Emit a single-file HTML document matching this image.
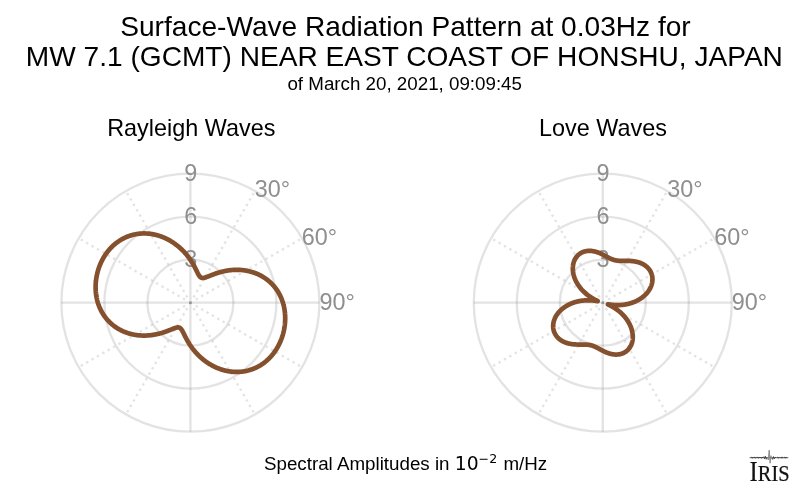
<!DOCTYPE html>
<html><head><meta charset="utf-8"><title>Surface-Wave Radiation Pattern</title>
<style>
html,body{margin:0;padding:0;background:#fff;}
svg{display:block;font-family:"Liberation Sans",Arial,Helvetica,sans-serif;}
</style></head><body>
<svg width="800" height="492" viewBox="0 0 800 492">
<rect width="800" height="492" fill="#fff"/>
<g fill="#000" text-anchor="middle">
<text x="405.5" y="35.6" font-size="28.1">Surface-Wave Radiation Pattern at 0.03Hz for</text>
<text x="404.4" y="66.3" font-size="28.1">MW 7.1 (GCMT) NEAR EAST COAST OF HONSHU, JAPAN</text>
<text x="404.7" y="90" font-size="18.75">of March 20, 2021, 09:09:45</text>
<text x="191.3" y="136.2" font-size="23.4">Rayleigh Waves</text>
<text x="603" y="136.2" font-size="23.4">Love Waves</text>
</g>
<g fill="none" stroke="#808080" stroke-opacity="0.225" stroke-width="2.34">
<circle cx="190.4" cy="302.7" r="43.00"/>
<circle cx="190.4" cy="302.7" r="86.00"/>
<circle cx="190.4" cy="302.7" r="129.00"/>
<path d="M190.4,302.7H319.4"/><path d="M190.4,302.7H61.400000000000006"/><path d="M190.4,302.7V173.7"/><path d="M190.4,302.7V431.7"/>
</g>
<g fill="none" stroke="#808080" stroke-opacity="0.225" stroke-width="2.34" stroke-dasharray="2.34 3.87">
<path d="M193.50,297.32L254.90,190.98"/>
<path d="M195.78,299.59L302.12,238.20"/>
<path d="M195.78,305.81L302.12,367.20"/>
<path d="M193.50,308.08L254.90,414.42"/>
<path d="M187.30,308.08L125.90,414.42"/>
<path d="M185.02,305.81L78.68,367.20"/>
<path d="M185.02,299.59L78.68,238.20"/>
<path d="M187.30,297.32L125.90,190.98"/>
</g>
<circle cx="190.4" cy="302.7" r="1.5" fill="#808080" fill-opacity="0.75"/>
<g font-size="23.4" fill="#8f8f8f" text-anchor="middle">
<text x="190.70000000000002" y="180.90">9</text>
<text x="190.70000000000002" y="223.90">6</text>
<text x="190.70000000000002" y="266.90">3</text>
</g>
<g font-size="23.4" fill="#8f8f8f">
<text x="254.8" y="197.1">30°</text>
<text x="301.8" y="244.5">60°</text>
<text x="319.4" y="309.7">90°</text>
</g>
<path d="M190.40,259.85 L190.59,260.13 L190.77,260.40 L190.95,260.68 L191.13,260.95 L191.31,261.22 L191.48,261.49 L191.65,261.77 L191.82,262.04 L191.99,262.30 L192.15,262.57 L192.31,262.84 L192.48,263.10 L192.63,263.37 L192.79,263.63 L192.94,263.89 L193.10,264.16 L193.25,264.41 L193.39,264.67 L193.54,264.93 L193.68,265.19 L193.82,265.44 L193.96,265.69 L194.10,265.95 L194.24,266.20 L194.37,266.44 L194.50,266.69 L194.63,266.94 L194.76,267.18 L194.89,267.42 L195.01,267.66 L195.14,267.90 L195.26,268.14 L195.38,268.37 L195.50,268.61 L195.61,268.84 L195.73,269.07 L195.84,269.29 L195.95,269.52 L196.06,269.74 L196.17,269.96 L196.28,270.18 L196.39,270.40 L196.49,270.61 L196.60,270.83 L196.70,271.04 L196.80,271.24 L196.90,271.45 L197.00,271.65 L197.10,271.85 L197.19,272.05 L197.29,272.25 L197.39,272.44 L197.48,272.63 L197.57,272.82 L197.67,273.00 L197.76,273.19 L197.85,273.37 L197.94,273.54 L198.03,273.72 L198.12,273.89 L198.21,274.06 L198.30,274.22 L198.39,274.38 L198.47,274.54 L198.56,274.70 L198.65,274.85 L198.74,275.00 L198.82,275.15 L198.91,275.29 L199.00,275.43 L199.09,275.57 L199.17,275.70 L199.26,275.83 L199.35,275.95 L199.44,276.08 L199.53,276.20 L199.62,276.31 L199.71,276.42 L199.80,276.53 L199.89,276.63 L199.98,276.74 L200.07,276.83 L200.17,276.92 L200.26,277.01 L200.36,277.10 L200.45,277.18 L200.55,277.26 L200.65,277.33 L200.75,277.40 L200.85,277.47 L200.96,277.53 L201.06,277.59 L201.17,277.64 L201.27,277.69 L201.38,277.74 L201.50,277.78 L201.61,277.82 L201.72,277.85 L201.84,277.88 L201.96,277.91 L202.08,277.93 L202.21,277.95 L202.33,277.96 L202.46,277.97 L202.59,277.98 L202.72,277.98 L202.86,277.98 L203.00,277.97 L203.14,277.97 L203.28,277.95 L203.43,277.94 L203.58,277.92 L203.73,277.89 L203.88,277.87 L204.04,277.84 L204.20,277.80 L204.36,277.77 L204.53,277.73 L204.70,277.68 L204.87,277.64 L205.05,277.59 L205.22,277.53 L205.41,277.48 L205.59,277.42 L205.78,277.36 L205.97,277.29 L206.17,277.22 L206.36,277.15 L206.56,277.08 L206.77,277.01 L206.98,276.93 L207.19,276.85 L207.40,276.77 L207.62,276.68 L207.84,276.59 L208.07,276.51 L208.30,276.42 L208.53,276.32 L208.76,276.23 L209.00,276.13 L209.24,276.04 L209.49,275.94 L209.74,275.84 L209.99,275.74 L210.25,275.63 L210.51,275.53 L210.77,275.42 L211.03,275.32 L211.30,275.21 L211.58,275.10 L211.85,274.99 L212.13,274.89 L212.41,274.78 L212.70,274.67 L212.99,274.55 L213.28,274.44 L213.58,274.33 L213.88,274.22 L214.18,274.11 L214.48,274.00 L214.79,273.89 L215.10,273.77 L215.42,273.66 L215.74,273.55 L216.06,273.44 L216.38,273.33 L216.71,273.22 L217.04,273.11 L217.37,273.01 L217.71,272.90 L218.05,272.79 L218.39,272.69 L218.73,272.58 L219.08,272.48 L219.43,272.37 L219.78,272.27 L220.14,272.17 L220.50,272.07 L220.86,271.98 L221.22,271.88 L221.59,271.78 L221.95,271.69 L222.33,271.60 L222.70,271.51 L223.07,271.42 L223.45,271.34 L223.83,271.25 L224.21,271.17 L224.60,271.09 L224.99,271.01 L225.37,270.93 L225.76,270.86 L226.16,270.79 L226.55,270.72 L226.95,270.65 L227.35,270.58 L227.75,270.52 L228.15,270.46 L228.55,270.40 L228.96,270.34 L229.37,270.29 L229.78,270.24 L230.19,270.19 L230.60,270.15 L231.01,270.11 L231.43,270.07 L231.84,270.03 L232.26,270.00 L232.68,269.97 L233.10,269.94 L233.52,269.91 L233.94,269.89 L234.36,269.87 L234.79,269.86 L235.21,269.84 L235.64,269.83 L236.06,269.83 L236.49,269.82 L236.92,269.82 L237.35,269.83 L237.78,269.83 L238.21,269.84 L238.64,269.85 L239.07,269.87 L239.50,269.89 L239.93,269.91 L240.37,269.94 L240.80,269.97 L241.23,270.00 L241.66,270.04 L242.10,270.08 L242.53,270.13 L242.96,270.17 L243.40,270.22 L243.83,270.28 L244.26,270.34 L244.69,270.40 L245.13,270.46 L245.56,270.53 L245.99,270.61 L246.42,270.68 L246.85,270.76 L247.28,270.85 L247.71,270.93 L248.14,271.02 L248.57,271.12 L248.99,271.22 L249.42,271.32 L249.84,271.42 L250.27,271.53 L250.69,271.65 L251.12,271.76 L251.54,271.88 L251.96,272.01 L252.38,272.14 L252.80,272.27 L253.21,272.40 L253.63,272.54 L254.04,272.68 L254.46,272.83 L254.87,272.98 L255.28,273.13 L255.69,273.29 L256.09,273.45 L256.50,273.62 L256.90,273.78 L257.31,273.95 L257.71,274.13 L258.11,274.31 L258.50,274.49 L258.90,274.68 L259.29,274.87 L259.68,275.06 L260.07,275.26 L260.46,275.46 L260.84,275.66 L261.23,275.87 L261.61,276.08 L261.99,276.29 L262.36,276.51 L262.74,276.73 L263.11,276.95 L263.48,277.18 L263.84,277.41 L264.21,277.65 L264.57,277.88 L264.93,278.12 L265.29,278.37 L265.64,278.61 L265.99,278.87 L266.34,279.12 L266.69,279.38 L267.03,279.64 L267.38,279.90 L267.71,280.16 L268.05,280.43 L268.38,280.71 L268.71,280.98 L269.04,281.26 L269.37,281.54 L269.69,281.83 L270.01,282.11 L270.32,282.40 L270.63,282.70 L270.94,282.99 L271.25,283.29 L271.56,283.59 L271.86,283.89 L272.15,284.20 L272.45,284.51 L272.74,284.82 L273.03,285.14 L273.31,285.45 L273.59,285.77 L273.87,286.10 L274.15,286.42 L274.42,286.75 L274.69,287.08 L274.95,287.41 L275.22,287.74 L275.48,288.08 L275.73,288.42 L275.98,288.76 L276.23,289.11 L276.48,289.45 L276.72,289.80 L276.96,290.15 L277.20,290.50 L277.43,290.86 L277.66,291.21 L277.88,291.57 L278.10,291.93 L278.32,292.29 L278.54,292.66 L278.75,293.02 L278.96,293.39 L279.16,293.76 L279.36,294.13 L279.56,294.51 L279.76,294.88 L279.95,295.26 L280.14,295.64 L280.32,296.02 L280.50,296.40 L280.68,296.78 L280.85,297.17 L281.02,297.55 L281.19,297.94 L281.35,298.33 L281.51,298.72 L281.67,299.11 L281.82,299.51 L281.97,299.90 L282.12,300.30 L282.26,300.70 L282.40,301.09 L282.53,301.49 L282.67,301.89 L282.79,302.30 L282.92,302.70 L283.04,303.10 L283.16,303.51 L283.27,303.92 L283.39,304.32 L283.49,304.73 L283.60,305.14 L283.70,305.55 L283.80,305.96 L283.89,306.37 L283.98,306.79 L284.07,307.20 L284.15,307.61 L284.24,308.03 L284.31,308.44 L284.39,308.86 L284.46,309.28 L284.53,309.69 L284.59,310.11 L284.65,310.53 L284.71,310.95 L284.76,311.37 L284.81,311.79 L284.86,312.21 L284.90,312.63 L284.95,313.05 L284.98,313.48 L285.02,313.90 L285.05,314.32 L285.08,314.74 L285.10,315.17 L285.12,315.59 L285.14,316.02 L285.16,316.44 L285.17,316.86 L285.18,317.29 L285.18,317.71 L285.19,318.14 L285.18,318.56 L285.18,318.99 L285.17,319.41 L285.16,319.84 L285.15,320.26 L285.13,320.69 L285.11,321.11 L285.09,321.54 L285.06,321.96 L285.03,322.38 L285.00,322.81 L284.97,323.23 L284.93,323.66 L284.89,324.08 L284.84,324.50 L284.80,324.93 L284.75,325.35 L284.69,325.77 L284.63,326.20 L284.57,326.62 L284.51,327.04 L284.45,327.46 L284.38,327.88 L284.31,328.30 L284.23,328.72 L284.15,329.14 L284.07,329.56 L283.99,329.98 L283.90,330.40 L283.81,330.81 L283.72,331.23 L283.62,331.65 L283.52,332.06 L283.42,332.48 L283.32,332.89 L283.21,333.30 L283.10,333.72 L282.99,334.13 L282.87,334.54 L282.75,334.95 L282.63,335.36 L282.50,335.77 L282.37,336.18 L282.24,336.58 L282.11,336.99 L281.97,337.39 L281.83,337.80 L281.69,338.20 L281.54,338.60 L281.40,339.00 L281.24,339.40 L281.09,339.80 L280.93,340.20 L280.77,340.60 L280.61,340.99 L280.44,341.39 L280.27,341.78 L280.10,342.17 L279.93,342.56 L279.75,342.95 L279.57,343.34 L279.39,343.72 L279.20,344.11 L279.01,344.49 L278.82,344.87 L278.62,345.25 L278.43,345.63 L278.23,346.01 L278.02,346.39 L277.82,346.76 L277.61,347.13 L277.40,347.51 L277.18,347.88 L276.96,348.24 L276.74,348.61 L276.52,348.97 L276.29,349.34 L276.07,349.70 L275.83,350.06 L275.60,350.41 L275.36,350.77 L275.12,351.12 L274.88,351.47 L274.63,351.82 L274.38,352.17 L274.13,352.52 L273.88,352.86 L273.62,353.20 L273.36,353.54 L273.10,353.88 L272.83,354.21 L272.57,354.54 L272.30,354.87 L272.02,355.20 L271.75,355.53 L271.47,355.85 L271.19,356.17 L270.90,356.49 L270.62,356.81 L270.33,357.12 L270.03,357.43 L269.74,357.74 L269.44,358.05 L269.14,358.35 L268.84,358.65 L268.53,358.95 L268.23,359.24 L267.92,359.54 L267.60,359.83 L267.29,360.11 L266.97,360.40 L266.65,360.68 L266.32,360.96 L266.00,361.24 L265.67,361.51 L265.34,361.78 L265.01,362.05 L264.67,362.31 L264.33,362.57 L263.99,362.83 L263.65,363.08 L263.31,363.34 L262.96,363.58 L262.61,363.83 L262.26,364.07 L261.90,364.31 L261.55,364.55 L261.19,364.78 L260.83,365.01 L260.46,365.23 L260.10,365.46 L259.73,365.68 L259.36,365.89 L258.99,366.10 L258.62,366.31 L258.24,366.52 L257.86,366.72 L257.48,366.92 L257.10,367.11 L256.72,367.31 L256.33,367.49 L255.95,367.68 L255.56,367.86 L255.17,368.03 L254.77,368.21 L254.38,368.38 L253.98,368.54 L253.58,368.70 L253.18,368.86 L252.78,369.02 L252.38,369.17 L251.98,369.31 L251.57,369.46 L251.16,369.59 L250.75,369.73 L250.34,369.86 L249.93,369.99 L249.52,370.11 L249.10,370.23 L248.69,370.35 L248.27,370.46 L247.85,370.57 L247.43,370.67 L247.01,370.77 L246.59,370.86 L246.17,370.96 L245.74,371.04 L245.32,371.13 L244.89,371.21 L244.47,371.28 L244.04,371.35 L243.61,371.42 L243.18,371.48 L242.75,371.54 L242.32,371.60 L241.89,371.65 L241.46,371.70 L241.02,371.74 L240.59,371.78 L240.15,371.81 L239.72,371.84 L239.29,371.87 L238.85,371.89 L238.41,371.91 L237.98,371.93 L237.54,371.94 L237.11,371.94 L236.67,371.95 L236.23,371.94 L235.79,371.94 L235.36,371.93 L234.92,371.91 L234.48,371.90 L234.05,371.87 L233.61,371.85 L233.17,371.82 L232.73,371.78 L232.30,371.75 L231.86,371.70 L231.43,371.66 L230.99,371.61 L230.55,371.55 L230.12,371.50 L229.69,371.44 L229.25,371.37 L228.82,371.30 L228.39,371.23 L227.95,371.15 L227.52,371.07 L227.09,370.99 L226.66,370.90 L226.23,370.81 L225.80,370.71 L225.38,370.61 L224.95,370.51 L224.52,370.40 L224.10,370.29 L223.68,370.18 L223.25,370.06 L222.83,369.94 L222.41,369.81 L221.99,369.69 L221.57,369.55 L221.16,369.42 L220.74,369.28 L220.33,369.14 L219.92,368.99 L219.51,368.85 L219.10,368.69 L218.69,368.54 L218.28,368.38 L217.88,368.22 L217.47,368.06 L217.07,367.89 L216.67,367.72 L216.27,367.54 L215.87,367.37 L215.48,367.19 L215.08,367.01 L214.69,366.82 L214.30,366.63 L213.92,366.44 L213.53,366.25 L213.15,366.05 L212.76,365.85 L212.38,365.65 L212.00,365.45 L211.63,365.24 L211.25,365.03 L210.88,364.82 L210.51,364.60 L210.15,364.38 L209.78,364.17 L209.42,363.94 L209.06,363.72 L208.70,363.49 L208.34,363.26 L207.99,363.03 L207.63,362.80 L207.28,362.57 L206.94,362.33 L206.59,362.09 L206.25,361.85 L205.91,361.61 L205.57,361.36 L205.24,361.12 L204.90,360.87 L204.57,360.62 L204.24,360.37 L203.92,360.11 L203.60,359.86 L203.28,359.60 L202.96,359.35 L202.64,359.09 L202.33,358.83 L202.02,358.56 L201.71,358.30 L201.41,358.04 L201.10,357.77 L200.80,357.50 L200.51,357.24 L200.21,356.97 L199.92,356.70 L199.63,356.43 L199.34,356.15 L199.06,355.88 L198.78,355.61 L198.50,355.33 L198.22,355.06 L197.95,354.78 L197.68,354.50 L197.41,354.23 L197.15,353.95 L196.88,353.67 L196.62,353.39 L196.37,353.11 L196.11,352.83 L195.86,352.55 L195.61,352.27 L195.36,351.99 L195.12,351.71 L194.88,351.43 L194.64,351.15 L194.40,350.86 L194.17,350.58 L193.94,350.30 L193.71,350.02 L193.48,349.74 L193.26,349.46 L193.04,349.17 L192.82,348.89 L192.61,348.61 L192.39,348.33 L192.18,348.05 L191.97,347.77 L191.77,347.49 L191.57,347.21 L191.37,346.93 L191.17,346.65 L190.97,346.38 L190.78,346.10 L190.59,345.82 L190.40,345.55 L190.21,345.27 L190.03,345.00 L189.85,344.72 L189.67,344.45 L189.49,344.18 L189.32,343.91 L189.15,343.63 L188.98,343.36 L188.81,343.10 L188.65,342.83 L188.49,342.56 L188.32,342.30 L188.17,342.03 L188.01,341.77 L187.86,341.51 L187.70,341.24 L187.55,340.99 L187.41,340.73 L187.26,340.47 L187.12,340.21 L186.98,339.96 L186.84,339.71 L186.70,339.45 L186.56,339.20 L186.43,338.96 L186.30,338.71 L186.17,338.46 L186.04,338.22 L185.91,337.98 L185.79,337.74 L185.66,337.50 L185.54,337.26 L185.42,337.03 L185.30,336.79 L185.19,336.56 L185.07,336.33 L184.96,336.11 L184.85,335.88 L184.74,335.66 L184.63,335.44 L184.52,335.22 L184.41,335.00 L184.31,334.79 L184.20,334.57 L184.10,334.36 L184.00,334.16 L183.90,333.95 L183.80,333.75 L183.70,333.55 L183.61,333.35 L183.51,333.15 L183.41,332.96 L183.32,332.77 L183.23,332.58 L183.13,332.40 L183.04,332.21 L182.95,332.03 L182.86,331.86 L182.77,331.68 L182.68,331.51 L182.59,331.34 L182.50,331.18 L182.41,331.02 L182.33,330.86 L182.24,330.70 L182.15,330.55 L182.06,330.40 L181.98,330.25 L181.89,330.11 L181.80,329.97 L181.71,329.83 L181.63,329.70 L181.54,329.57 L181.45,329.45 L181.36,329.32 L181.27,329.20 L181.18,329.09 L181.09,328.98 L181.00,328.87 L180.91,328.77 L180.82,328.66 L180.73,328.57 L180.63,328.48 L180.54,328.39 L180.44,328.30 L180.35,328.22 L180.25,328.14 L180.15,328.07 L180.05,328.00 L179.95,327.93 L179.84,327.87 L179.74,327.81 L179.63,327.76 L179.53,327.71 L179.42,327.66 L179.30,327.62 L179.19,327.58 L179.08,327.55 L178.96,327.52 L178.84,327.49 L178.72,327.47 L178.59,327.45 L178.47,327.44 L178.34,327.43 L178.21,327.42 L178.08,327.42 L177.94,327.42 L177.80,327.43 L177.66,327.43 L177.52,327.45 L177.37,327.46 L177.22,327.48 L177.07,327.51 L176.92,327.53 L176.76,327.56 L176.60,327.60 L176.44,327.63 L176.27,327.67 L176.10,327.72 L175.93,327.76 L175.75,327.81 L175.58,327.87 L175.39,327.92 L175.21,327.98 L175.02,328.04 L174.83,328.11 L174.63,328.18 L174.44,328.25 L174.24,328.32 L174.03,328.39 L173.82,328.47 L173.61,328.55 L173.40,328.63 L173.18,328.72 L172.96,328.81 L172.73,328.89 L172.50,328.98 L172.27,329.08 L172.04,329.17 L171.80,329.27 L171.56,329.36 L171.31,329.46 L171.06,329.56 L170.81,329.66 L170.55,329.77 L170.29,329.87 L170.03,329.98 L169.77,330.08 L169.50,330.19 L169.22,330.30 L168.95,330.41 L168.67,330.51 L168.39,330.62 L168.10,330.73 L167.81,330.85 L167.52,330.96 L167.22,331.07 L166.92,331.18 L166.62,331.29 L166.32,331.40 L166.01,331.51 L165.70,331.63 L165.38,331.74 L165.06,331.85 L164.74,331.96 L164.42,332.07 L164.09,332.18 L163.76,332.29 L163.43,332.39 L163.09,332.50 L162.75,332.61 L162.41,332.71 L162.07,332.82 L161.72,332.92 L161.37,333.03 L161.02,333.13 L160.66,333.23 L160.30,333.33 L159.94,333.42 L159.58,333.52 L159.21,333.62 L158.85,333.71 L158.47,333.80 L158.10,333.89 L157.73,333.98 L157.35,334.06 L156.97,334.15 L156.59,334.23 L156.20,334.31 L155.81,334.39 L155.43,334.47 L155.04,334.54 L154.64,334.61 L154.25,334.68 L153.85,334.75 L153.45,334.82 L153.05,334.88 L152.65,334.94 L152.25,335.00 L151.84,335.06 L151.43,335.11 L151.02,335.16 L150.61,335.21 L150.20,335.25 L149.79,335.29 L149.37,335.33 L148.96,335.37 L148.54,335.40 L148.12,335.43 L147.70,335.46 L147.28,335.49 L146.86,335.51 L146.44,335.53 L146.01,335.54 L145.59,335.56 L145.16,335.57 L144.74,335.57 L144.31,335.58 L143.88,335.58 L143.45,335.57 L143.02,335.57 L142.59,335.56 L142.16,335.55 L141.73,335.53 L141.30,335.51 L140.87,335.49 L140.43,335.46 L140.00,335.43 L139.57,335.40 L139.14,335.36 L138.70,335.32 L138.27,335.27 L137.84,335.23 L137.40,335.18 L136.97,335.12 L136.54,335.06 L136.11,335.00 L135.67,334.94 L135.24,334.87 L134.81,334.79 L134.38,334.72 L133.95,334.64 L133.52,334.55 L133.09,334.47 L132.66,334.38 L132.23,334.28 L131.81,334.18 L131.38,334.08 L130.96,333.98 L130.53,333.87 L130.11,333.75 L129.68,333.64 L129.26,333.52 L128.84,333.39 L128.42,333.26 L128.00,333.13 L127.59,333.00 L127.17,332.86 L126.76,332.72 L126.34,332.57 L125.93,332.42 L125.52,332.27 L125.11,332.11 L124.71,331.95 L124.30,331.78 L123.90,331.62 L123.49,331.45 L123.09,331.27 L122.69,331.09 L122.30,330.91 L121.90,330.72 L121.51,330.53 L121.12,330.34 L120.73,330.14 L120.34,329.94 L119.96,329.74 L119.57,329.53 L119.19,329.32 L118.81,329.11 L118.44,328.89 L118.06,328.67 L117.69,328.45 L117.32,328.22 L116.96,327.99 L116.59,327.75 L116.23,327.52 L115.87,327.28 L115.51,327.03 L115.16,326.79 L114.81,326.53 L114.46,326.28 L114.11,326.02 L113.77,325.76 L113.42,325.50 L113.09,325.24 L112.75,324.97 L112.42,324.69 L112.09,324.42 L111.76,324.14 L111.43,323.86 L111.11,323.57 L110.79,323.29 L110.48,323.00 L110.17,322.70 L109.86,322.41 L109.55,322.11 L109.24,321.81 L108.94,321.51 L108.65,321.20 L108.35,320.89 L108.06,320.58 L107.77,320.26 L107.49,319.95 L107.21,319.63 L106.93,319.30 L106.65,318.98 L106.38,318.65 L106.11,318.32 L105.85,317.99 L105.58,317.66 L105.32,317.32 L105.07,316.98 L104.82,316.64 L104.57,316.29 L104.32,315.95 L104.08,315.60 L103.84,315.25 L103.60,314.90 L103.37,314.54 L103.14,314.19 L102.92,313.83 L102.70,313.47 L102.48,313.11 L102.26,312.74 L102.05,312.38 L101.84,312.01 L101.64,311.64 L101.44,311.27 L101.24,310.89 L101.04,310.52 L100.85,310.14 L100.66,309.76 L100.48,309.38 L100.30,309.00 L100.12,308.62 L99.95,308.23 L99.78,307.85 L99.61,307.46 L99.45,307.07 L99.29,306.68 L99.13,306.29 L98.98,305.89 L98.83,305.50 L98.68,305.10 L98.54,304.70 L98.40,304.31 L98.27,303.91 L98.13,303.51 L98.01,303.10 L97.88,302.70 L97.76,302.30 L97.64,301.89 L97.53,301.48 L97.41,301.08 L97.31,300.67 L97.20,300.26 L97.10,299.85 L97.00,299.44 L96.91,299.03 L96.82,298.61 L96.73,298.20 L96.65,297.79 L96.56,297.37 L96.49,296.96 L96.41,296.54 L96.34,296.12 L96.27,295.71 L96.21,295.29 L96.15,294.87 L96.09,294.45 L96.04,294.03 L95.99,293.61 L95.94,293.19 L95.90,292.77 L95.85,292.35 L95.82,291.92 L95.78,291.50 L95.75,291.08 L95.72,290.66 L95.70,290.23 L95.68,289.81 L95.66,289.38 L95.64,288.96 L95.63,288.54 L95.62,288.11 L95.62,287.69 L95.61,287.26 L95.62,286.84 L95.62,286.41 L95.63,285.99 L95.64,285.56 L95.65,285.14 L95.67,284.71 L95.69,284.29 L95.71,283.86 L95.74,283.44 L95.77,283.02 L95.80,282.59 L95.83,282.17 L95.87,281.74 L95.91,281.32 L95.96,280.90 L96.00,280.47 L96.05,280.05 L96.11,279.63 L96.17,279.20 L96.23,278.78 L96.29,278.36 L96.35,277.94 L96.42,277.52 L96.49,277.10 L96.57,276.68 L96.65,276.26 L96.73,275.84 L96.81,275.42 L96.90,275.00 L96.99,274.59 L97.08,274.17 L97.18,273.75 L97.28,273.34 L97.38,272.92 L97.48,272.51 L97.59,272.10 L97.70,271.68 L97.81,271.27 L97.93,270.86 L98.05,270.45 L98.17,270.04 L98.30,269.63 L98.43,269.22 L98.56,268.82 L98.69,268.41 L98.83,268.01 L98.97,267.60 L99.11,267.20 L99.26,266.80 L99.40,266.40 L99.56,266.00 L99.71,265.60 L99.87,265.20 L100.03,264.80 L100.19,264.41 L100.36,264.01 L100.53,263.62 L100.70,263.23 L100.87,262.84 L101.05,262.45 L101.23,262.06 L101.41,261.68 L101.60,261.29 L101.79,260.91 L101.98,260.53 L102.18,260.15 L102.37,259.77 L102.57,259.39 L102.78,259.01 L102.98,258.64 L103.19,258.27 L103.40,257.89 L103.62,257.52 L103.84,257.16 L104.06,256.79 L104.28,256.43 L104.51,256.06 L104.73,255.70 L104.97,255.34 L105.20,254.99 L105.44,254.63 L105.68,254.28 L105.92,253.93 L106.17,253.58 L106.42,253.23 L106.67,252.88 L106.92,252.54 L107.18,252.20 L107.44,251.86 L107.70,251.52 L107.97,251.19 L108.23,250.86 L108.50,250.53 L108.78,250.20 L109.05,249.87 L109.33,249.55 L109.61,249.23 L109.90,248.91 L110.18,248.59 L110.47,248.28 L110.77,247.97 L111.06,247.66 L111.36,247.35 L111.66,247.05 L111.96,246.75 L112.27,246.45 L112.57,246.16 L112.88,245.86 L113.20,245.57 L113.51,245.29 L113.83,245.00 L114.15,244.72 L114.48,244.44 L114.80,244.16 L115.13,243.89 L115.46,243.62 L115.79,243.35 L116.13,243.09 L116.47,242.83 L116.81,242.57 L117.15,242.32 L117.49,242.06 L117.84,241.82 L118.19,241.57 L118.54,241.33 L118.90,241.09 L119.25,240.85 L119.61,240.62 L119.97,240.39 L120.34,240.17 L120.70,239.94 L121.07,239.72 L121.44,239.51 L121.81,239.30 L122.18,239.09 L122.56,238.88 L122.94,238.68 L123.32,238.48 L123.70,238.29 L124.08,238.09 L124.47,237.91 L124.85,237.72 L125.24,237.54 L125.63,237.37 L126.03,237.19 L126.42,237.02 L126.82,236.86 L127.22,236.70 L127.62,236.54 L128.02,236.38 L128.42,236.23 L128.82,236.09 L129.23,235.94 L129.64,235.81 L130.05,235.67 L130.46,235.54 L130.87,235.41 L131.28,235.29 L131.70,235.17 L132.11,235.05 L132.53,234.94 L132.95,234.83 L133.37,234.73 L133.79,234.63 L134.21,234.54 L134.63,234.44 L135.06,234.36 L135.48,234.27 L135.91,234.19 L136.33,234.12 L136.76,234.05 L137.19,233.98 L137.62,233.92 L138.05,233.86 L138.48,233.80 L138.91,233.75 L139.34,233.70 L139.78,233.66 L140.21,233.62 L140.65,233.59 L141.08,233.56 L141.51,233.53 L141.95,233.51 L142.39,233.49 L142.82,233.47 L143.26,233.46 L143.69,233.46 L144.13,233.45 L144.57,233.46 L145.01,233.46 L145.44,233.47 L145.88,233.49 L146.32,233.50 L146.75,233.53 L147.19,233.55 L147.63,233.58 L148.07,233.62 L148.50,233.65 L148.94,233.70 L149.37,233.74 L149.81,233.79 L150.25,233.85 L150.68,233.90 L151.11,233.96 L151.55,234.03 L151.98,234.10 L152.41,234.17 L152.85,234.25 L153.28,234.33 L153.71,234.41 L154.14,234.50 L154.57,234.59 L155.00,234.69 L155.42,234.79 L155.85,234.89 L156.28,235.00 L156.70,235.11 L157.12,235.22 L157.55,235.34 L157.97,235.46 L158.39,235.59 L158.81,235.71 L159.23,235.85 L159.64,235.98 L160.06,236.12 L160.47,236.26 L160.88,236.41 L161.29,236.55 L161.70,236.71 L162.11,236.86 L162.52,237.02 L162.92,237.18 L163.33,237.34 L163.73,237.51 L164.13,237.68 L164.53,237.86 L164.93,238.03 L165.32,238.21 L165.72,238.39 L166.11,238.58 L166.50,238.77 L166.88,238.96 L167.27,239.15 L167.65,239.35 L168.04,239.55 L168.42,239.75 L168.80,239.95 L169.17,240.16 L169.55,240.37 L169.92,240.58 L170.29,240.80 L170.65,241.02 L171.02,241.23 L171.38,241.46 L171.74,241.68 L172.10,241.91 L172.46,242.14 L172.81,242.37 L173.17,242.60 L173.52,242.83 L173.86,243.07 L174.21,243.31 L174.55,243.55 L174.89,243.79 L175.23,244.04 L175.56,244.28 L175.90,244.53 L176.23,244.78 L176.56,245.03 L176.88,245.29 L177.20,245.54 L177.52,245.80 L177.84,246.05 L178.16,246.31 L178.47,246.57 L178.78,246.84 L179.09,247.10 L179.39,247.36 L179.70,247.63 L180.00,247.90 L180.29,248.16 L180.59,248.43 L180.88,248.70 L181.17,248.97 L181.46,249.25 L181.74,249.52 L182.02,249.79 L182.30,250.07 L182.58,250.34 L182.85,250.62 L183.12,250.90 L183.39,251.17 L183.65,251.45 L183.92,251.73 L184.18,252.01 L184.43,252.29 L184.69,252.57 L184.94,252.85 L185.19,253.13 L185.44,253.41 L185.68,253.69 L185.92,253.97 L186.16,254.25 L186.40,254.54 L186.63,254.82 L186.86,255.10 L187.09,255.38 L187.32,255.66 L187.54,255.94 L187.76,256.23 L187.98,256.51 L188.19,256.79 L188.41,257.07 L188.62,257.35 L188.83,257.63 L189.03,257.91 L189.23,258.19 L189.43,258.47 L189.63,258.75 L189.83,259.02 L190.02,259.30 L190.21,259.58Z" fill="none" stroke="#84502e" stroke-width="4.69" stroke-linejoin="round"/>
<g fill="none" stroke="#808080" stroke-opacity="0.225" stroke-width="2.34">
<circle cx="602.8" cy="302.7" r="43.00"/>
<circle cx="602.8" cy="302.7" r="86.00"/>
<circle cx="602.8" cy="302.7" r="129.00"/>
<path d="M602.8,302.7H731.8"/><path d="M602.8,302.7H473.79999999999995"/><path d="M602.8,302.7V173.7"/><path d="M602.8,302.7V431.7"/>
</g>
<g fill="none" stroke="#808080" stroke-opacity="0.225" stroke-width="2.34" stroke-dasharray="2.34 3.87">
<path d="M605.90,297.32L667.30,190.98"/>
<path d="M608.18,299.59L714.52,238.20"/>
<path d="M608.18,305.81L714.52,367.20"/>
<path d="M605.90,308.08L667.30,414.42"/>
<path d="M599.69,308.08L538.30,414.42"/>
<path d="M597.42,305.81L491.08,367.20"/>
<path d="M597.42,299.59L491.08,238.20"/>
<path d="M599.69,297.32L538.30,190.98"/>
</g>
<circle cx="602.8" cy="302.7" r="1.5" fill="#808080" fill-opacity="0.75"/>
<g font-size="23.4" fill="#8f8f8f" text-anchor="middle">
<text x="603.0999999999999" y="180.90">9</text>
<text x="603.0999999999999" y="223.90">6</text>
<text x="603.0999999999999" y="266.90">3</text>
</g>
<g font-size="23.4" fill="#8f8f8f">
<text x="667.2" y="197.1">30°</text>
<text x="714.2" y="244.5">60°</text>
<text x="731.8" y="309.7">90°</text>
</g>
<path d="M602.80,254.62 L603.01,254.73 L603.22,254.84 L603.43,254.94 L603.63,255.05 L603.84,255.16 L604.04,255.27 L604.25,255.38 L604.45,255.48 L604.65,255.59 L604.85,255.70 L605.05,255.81 L605.25,255.92 L605.45,256.02 L605.65,256.13 L605.85,256.24 L606.04,256.34 L606.24,256.45 L606.43,256.56 L606.63,256.66 L606.82,256.77 L607.01,256.87 L607.20,256.97 L607.39,257.07 L607.58,257.18 L607.77,257.28 L607.96,257.38 L608.15,257.48 L608.34,257.57 L608.53,257.67 L608.72,257.77 L608.90,257.86 L609.09,257.96 L609.27,258.05 L609.46,258.14 L609.64,258.23 L609.83,258.32 L610.01,258.41 L610.20,258.49 L610.38,258.58 L610.56,258.66 L610.75,258.75 L610.93,258.83 L611.11,258.90 L611.30,258.98 L611.48,259.06 L611.66,259.13 L611.85,259.21 L612.03,259.28 L612.21,259.35 L612.40,259.42 L612.58,259.48 L612.76,259.55 L612.95,259.61 L613.13,259.67 L613.31,259.73 L613.50,259.79 L613.68,259.84 L613.87,259.90 L614.05,259.95 L614.24,260.00 L614.43,260.05 L614.61,260.10 L614.80,260.15 L614.99,260.19 L615.18,260.23 L615.37,260.27 L615.56,260.31 L615.75,260.35 L615.94,260.39 L616.13,260.42 L616.32,260.46 L616.52,260.49 L616.71,260.52 L616.90,260.55 L617.10,260.57 L617.30,260.60 L617.49,260.62 L617.69,260.64 L617.89,260.66 L618.09,260.68 L618.29,260.70 L618.50,260.72 L618.70,260.74 L618.90,260.75 L619.11,260.76 L619.31,260.78 L619.52,260.79 L619.73,260.80 L619.94,260.81 L620.15,260.82 L620.36,260.82 L620.57,260.83 L620.79,260.83 L621.00,260.84 L621.22,260.84 L621.43,260.85 L621.65,260.85 L621.87,260.85 L622.09,260.85 L622.31,260.85 L622.54,260.85 L622.76,260.85 L622.98,260.85 L623.21,260.85 L623.44,260.85 L623.66,260.85 L623.89,260.85 L624.12,260.85 L624.35,260.85 L624.59,260.85 L624.82,260.85 L625.05,260.85 L625.29,260.85 L625.53,260.85 L625.76,260.85 L626.00,260.85 L626.24,260.85 L626.48,260.85 L626.72,260.85 L626.96,260.85 L627.20,260.85 L627.45,260.86 L627.69,260.86 L627.94,260.86 L628.18,260.87 L628.43,260.88 L628.68,260.88 L628.92,260.89 L629.17,260.90 L629.42,260.91 L629.67,260.92 L629.92,260.94 L630.17,260.95 L630.42,260.96 L630.68,260.98 L630.93,261.00 L631.18,261.02 L631.43,261.04 L631.69,261.06 L631.94,261.08 L632.19,261.11 L632.45,261.13 L632.70,261.16 L632.96,261.19 L633.21,261.22 L633.47,261.26 L633.72,261.29 L633.98,261.33 L634.23,261.37 L634.49,261.41 L634.74,261.45 L635.00,261.49 L635.25,261.54 L635.50,261.59 L635.76,261.64 L636.01,261.69 L636.26,261.74 L636.52,261.80 L636.77,261.86 L637.02,261.92 L637.27,261.98 L637.52,262.04 L637.77,262.11 L638.02,262.18 L638.27,262.25 L638.52,262.33 L638.77,262.40 L639.01,262.48 L639.26,262.56 L639.50,262.65 L639.75,262.73 L639.99,262.82 L640.23,262.91 L640.47,263.00 L640.71,263.10 L640.95,263.20 L641.18,263.30 L641.42,263.40 L641.65,263.51 L641.89,263.61 L642.12,263.72 L642.35,263.84 L642.58,263.95 L642.80,264.07 L643.03,264.19 L643.25,264.31 L643.47,264.44 L643.70,264.56 L643.91,264.69 L644.13,264.83 L644.35,264.96 L644.56,265.10 L644.77,265.24 L644.98,265.38 L645.19,265.53 L645.39,265.68 L645.59,265.83 L645.79,265.98 L645.99,266.14 L646.19,266.29 L646.38,266.45 L646.57,266.62 L646.76,266.78 L646.95,266.95 L647.13,267.12 L647.32,267.29 L647.49,267.47 L647.67,267.64 L647.85,267.82 L648.02,268.00 L648.19,268.19 L648.35,268.37 L648.51,268.56 L648.67,268.75 L648.83,268.95 L648.99,269.14 L649.14,269.34 L649.29,269.54 L649.43,269.74 L649.58,269.95 L649.72,270.15 L649.85,270.36 L649.99,270.57 L650.12,270.78 L650.24,271.00 L650.37,271.22 L650.49,271.43 L650.61,271.65 L650.72,271.88 L650.83,272.10 L650.94,272.33 L651.04,272.56 L651.14,272.79 L651.24,273.02 L651.33,273.25 L651.42,273.49 L651.51,273.72 L651.59,273.96 L651.67,274.20 L651.74,274.44 L651.82,274.69 L651.88,274.93 L651.95,275.18 L652.01,275.42 L652.07,275.67 L652.12,275.92 L652.17,276.17 L652.21,276.43 L652.25,276.68 L652.29,276.94 L652.33,277.19 L652.36,277.45 L652.38,277.71 L652.40,277.97 L652.42,278.23 L652.43,278.49 L652.44,278.75 L652.45,279.02 L652.45,279.28 L652.45,279.55 L652.44,279.81 L652.43,280.08 L652.42,280.35 L652.40,280.62 L652.38,280.89 L652.35,281.15 L652.32,281.42 L652.28,281.70 L652.25,281.97 L652.20,282.24 L652.15,282.51 L652.10,282.78 L652.05,283.05 L651.99,283.32 L651.92,283.60 L651.85,283.87 L651.78,284.14 L651.70,284.42 L651.62,284.69 L651.54,284.96 L651.45,285.23 L651.35,285.51 L651.26,285.78 L651.15,286.05 L651.05,286.32 L650.94,286.59 L650.82,286.86 L650.70,287.13 L650.58,287.41 L650.45,287.67 L650.32,287.94 L650.19,288.21 L650.05,288.48 L649.90,288.75 L649.76,289.01 L649.60,289.28 L649.45,289.54 L649.29,289.81 L649.12,290.07 L648.95,290.33 L648.78,290.59 L648.60,290.85 L648.42,291.11 L648.24,291.37 L648.05,291.63 L647.86,291.88 L647.66,292.14 L647.46,292.39 L647.25,292.64 L647.04,292.89 L646.83,293.14 L646.62,293.39 L646.40,293.63 L646.17,293.88 L645.94,294.12 L645.71,294.36 L645.48,294.60 L645.24,294.83 L644.99,295.07 L644.75,295.30 L644.50,295.54 L644.24,295.77 L643.98,295.99 L643.72,296.22 L643.46,296.44 L643.19,296.66 L642.92,296.88 L642.64,297.10 L642.36,297.32 L642.08,297.53 L641.79,297.74 L641.50,297.95 L641.21,298.15 L640.92,298.36 L640.62,298.56 L640.32,298.76 L640.01,298.95 L639.70,299.15 L639.39,299.34 L639.07,299.53 L638.76,299.71 L638.44,299.90 L638.11,300.08 L637.79,300.25 L637.46,300.43 L637.12,300.60 L636.79,300.77 L636.45,300.94 L636.11,301.10 L635.77,301.26 L635.42,301.42 L635.07,301.57 L634.72,301.72 L634.37,301.87 L634.01,302.02 L633.65,302.16 L633.29,302.30 L632.93,302.44 L632.57,302.57 L632.20,302.70 L631.83,302.83 L631.46,302.95 L631.08,303.07 L630.71,303.19 L630.33,303.30 L629.95,303.41 L629.57,303.52 L629.19,303.62 L628.80,303.72 L628.42,303.82 L628.03,303.91 L627.64,304.00 L627.25,304.09 L626.86,304.17 L626.46,304.25 L626.07,304.33 L625.67,304.40 L625.28,304.47 L624.88,304.53 L624.48,304.60 L624.08,304.66 L623.68,304.71 L623.28,304.76 L622.87,304.81 L622.47,304.85 L622.07,304.90 L621.67,304.93 L621.26,304.97 L620.86,305.00 L620.45,305.02 L620.05,305.05 L619.65,305.07 L619.24,305.08 L618.84,305.10 L618.44,305.11 L618.04,305.11 L617.63,305.12 L617.23,305.12 L616.84,305.11 L616.44,305.10 L616.04,305.09 L615.65,305.08 L615.26,305.06 L614.87,305.05 L614.48,305.02 L614.09,305.00 L613.71,304.97 L613.34,304.94 L612.96,304.91 L612.59,304.87 L612.23,304.83 L611.87,304.79 L611.52,304.75 L611.18,304.71 L610.85,304.67 L610.52,304.62 L610.21,304.58 L609.90,304.54 L609.61,304.49 L609.34,304.45 L609.08,304.41 L608.84,304.38 L608.63,304.34 L608.43,304.32 L608.27,304.29 L608.13,304.28 L608.02,304.27 L607.94,304.27 L607.90,304.28 L607.89,304.30 L607.91,304.34 L607.97,304.38 L608.06,304.43 L608.17,304.50 L608.32,304.57 L608.49,304.66 L608.68,304.75 L608.89,304.86 L609.12,304.97 L609.37,305.09 L609.62,305.22 L609.89,305.35 L610.17,305.49 L610.46,305.64 L610.76,305.79 L611.06,305.95 L611.37,306.12 L611.68,306.29 L612.00,306.46 L612.31,306.64 L612.64,306.82 L612.96,307.01 L613.28,307.20 L613.61,307.40 L613.94,307.60 L614.26,307.80 L614.59,308.01 L614.92,308.22 L615.24,308.44 L615.57,308.65 L615.89,308.88 L616.22,309.10 L616.54,309.33 L616.86,309.56 L617.18,309.79 L617.50,310.03 L617.81,310.27 L618.13,310.51 L618.44,310.76 L618.75,311.00 L619.06,311.26 L619.37,311.51 L619.67,311.76 L619.97,312.02 L620.27,312.28 L620.57,312.55 L620.86,312.81 L621.15,313.08 L621.44,313.35 L621.72,313.63 L622.01,313.90 L622.29,314.18 L622.56,314.46 L622.84,314.74 L623.11,315.02 L623.37,315.31 L623.64,315.59 L623.90,315.88 L624.16,316.17 L624.41,316.47 L624.66,316.76 L624.91,317.06 L625.15,317.35 L625.39,317.65 L625.63,317.95 L625.86,318.26 L626.09,318.56 L626.32,318.86 L626.54,319.17 L626.76,319.48 L626.98,319.79 L627.19,320.10 L627.40,320.41 L627.60,320.72 L627.80,321.03 L628.00,321.35 L628.19,321.66 L628.38,321.98 L628.57,322.29 L628.75,322.61 L628.93,322.93 L629.10,323.25 L629.27,323.57 L629.44,323.89 L629.60,324.21 L629.76,324.53 L629.91,324.85 L630.06,325.17 L630.21,325.49 L630.35,325.82 L630.49,326.14 L630.62,326.46 L630.75,326.79 L630.88,327.11 L631.00,327.43 L631.12,327.75 L631.23,328.08 L631.34,328.40 L631.45,328.72 L631.55,329.04 L631.65,329.37 L631.74,329.69 L631.83,330.01 L631.92,330.33 L632.00,330.65 L632.08,330.97 L632.15,331.29 L632.22,331.61 L632.29,331.93 L632.35,332.25 L632.40,332.56 L632.46,332.88 L632.51,333.20 L632.55,333.51 L632.59,333.82 L632.63,334.14 L632.66,334.45 L632.69,334.76 L632.72,335.07 L632.74,335.37 L632.76,335.68 L632.77,335.99 L632.78,336.29 L632.79,336.59 L632.79,336.90 L632.79,337.20 L632.78,337.49 L632.77,337.79 L632.76,338.09 L632.74,338.38 L632.72,338.67 L632.69,338.96 L632.67,339.25 L632.63,339.54 L632.60,339.83 L632.56,340.11 L632.51,340.39 L632.47,340.67 L632.42,340.95 L632.36,341.22 L632.30,341.50 L632.24,341.77 L632.18,342.04 L632.11,342.31 L632.04,342.57 L631.96,342.83 L631.88,343.10 L631.80,343.35 L631.71,343.61 L631.62,343.86 L631.53,344.11 L631.43,344.36 L631.34,344.61 L631.23,344.85 L631.13,345.09 L631.02,345.33 L630.91,345.57 L630.79,345.80 L630.67,346.03 L630.55,346.26 L630.43,346.49 L630.30,346.71 L630.17,346.93 L630.04,347.15 L629.90,347.36 L629.76,347.57 L629.62,347.78 L629.48,347.99 L629.33,348.19 L629.18,348.39 L629.03,348.59 L628.87,348.78 L628.71,348.97 L628.55,349.16 L628.39,349.35 L628.23,349.53 L628.06,349.71 L627.89,349.88 L627.71,350.05 L627.54,350.22 L627.36,350.39 L627.18,350.55 L627.00,350.71 L626.82,350.87 L626.63,351.02 L626.44,351.17 L626.25,351.32 L626.06,351.46 L625.87,351.61 L625.67,351.74 L625.47,351.88 L625.27,352.01 L625.07,352.14 L624.87,352.26 L624.66,352.38 L624.45,352.50 L624.24,352.61 L624.03,352.72 L623.82,352.83 L623.61,352.94 L623.39,353.04 L623.18,353.13 L622.96,353.23 L622.74,353.32 L622.52,353.41 L622.30,353.49 L622.07,353.57 L621.85,353.65 L621.62,353.73 L621.40,353.80 L621.17,353.87 L620.94,353.93 L620.71,353.99 L620.48,354.05 L620.25,354.11 L620.02,354.16 L619.78,354.21 L619.55,354.25 L619.32,354.29 L619.08,354.33 L618.84,354.37 L618.61,354.40 L618.37,354.43 L618.13,354.46 L617.89,354.48 L617.65,354.50 L617.41,354.52 L617.17,354.53 L616.93,354.54 L616.69,354.55 L616.45,354.56 L616.21,354.56 L615.97,354.56 L615.73,354.55 L615.49,354.55 L615.25,354.54 L615.00,354.52 L614.76,354.51 L614.52,354.49 L614.28,354.47 L614.04,354.45 L613.79,354.42 L613.55,354.39 L613.31,354.36 L613.07,354.33 L612.83,354.29 L612.59,354.25 L612.35,354.21 L612.11,354.17 L611.87,354.12 L611.63,354.07 L611.39,354.02 L611.15,353.97 L610.91,353.91 L610.67,353.85 L610.44,353.79 L610.20,353.73 L609.96,353.67 L609.73,353.60 L609.49,353.53 L609.26,353.46 L609.02,353.39 L608.79,353.31 L608.56,353.24 L608.33,353.16 L608.10,353.08 L607.86,353.00 L607.64,352.92 L607.41,352.83 L607.18,352.75 L606.95,352.66 L606.72,352.57 L606.50,352.48 L606.27,352.39 L606.05,352.29 L605.83,352.20 L605.61,352.10 L605.38,352.01 L605.16,351.91 L604.94,351.81 L604.73,351.71 L604.51,351.61 L604.29,351.51 L604.08,351.41 L603.86,351.30 L603.65,351.20 L603.43,351.09 L603.22,350.99 L603.01,350.88 L602.80,350.78 L602.59,350.67 L602.38,350.56 L602.17,350.46 L601.97,350.35 L601.76,350.24 L601.56,350.13 L601.35,350.02 L601.15,349.92 L600.95,349.81 L600.75,349.70 L600.55,349.59 L600.35,349.48 L600.15,349.38 L599.95,349.27 L599.75,349.16 L599.56,349.06 L599.36,348.95 L599.17,348.84 L598.97,348.74 L598.78,348.63 L598.59,348.53 L598.40,348.43 L598.21,348.33 L598.02,348.22 L597.83,348.12 L597.64,348.02 L597.45,347.92 L597.26,347.83 L597.07,347.73 L596.88,347.63 L596.70,347.54 L596.51,347.44 L596.33,347.35 L596.14,347.26 L595.96,347.17 L595.77,347.08 L595.59,346.99 L595.40,346.91 L595.22,346.82 L595.04,346.74 L594.85,346.65 L594.67,346.57 L594.49,346.50 L594.30,346.42 L594.12,346.34 L593.94,346.27 L593.75,346.19 L593.57,346.12 L593.39,346.05 L593.20,345.98 L593.02,345.92 L592.84,345.85 L592.65,345.79 L592.47,345.73 L592.29,345.67 L592.10,345.61 L591.92,345.56 L591.73,345.50 L591.55,345.45 L591.36,345.40 L591.17,345.35 L590.99,345.30 L590.80,345.25 L590.61,345.21 L590.42,345.17 L590.23,345.13 L590.04,345.09 L589.85,345.05 L589.66,345.01 L589.47,344.98 L589.28,344.94 L589.08,344.91 L588.89,344.88 L588.70,344.85 L588.50,344.83 L588.30,344.80 L588.11,344.78 L587.91,344.76 L587.71,344.74 L587.51,344.72 L587.31,344.70 L587.10,344.68 L586.90,344.66 L586.70,344.65 L586.49,344.64 L586.29,344.62 L586.08,344.61 L585.87,344.60 L585.66,344.59 L585.45,344.58 L585.24,344.58 L585.03,344.57 L584.81,344.57 L584.60,344.56 L584.38,344.56 L584.17,344.55 L583.95,344.55 L583.73,344.55 L583.51,344.55 L583.29,344.55 L583.06,344.55 L582.84,344.55 L582.62,344.55 L582.39,344.55 L582.16,344.55 L581.94,344.55 L581.71,344.55 L581.48,344.55 L581.25,344.55 L581.01,344.55 L580.78,344.55 L580.55,344.55 L580.31,344.55 L580.07,344.55 L579.84,344.55 L579.60,344.55 L579.36,344.55 L579.12,344.55 L578.88,344.55 L578.64,344.55 L578.40,344.55 L578.15,344.54 L577.91,344.54 L577.66,344.54 L577.42,344.53 L577.17,344.52 L576.92,344.52 L576.68,344.51 L576.43,344.50 L576.18,344.49 L575.93,344.48 L575.68,344.46 L575.43,344.45 L575.18,344.44 L574.92,344.42 L574.67,344.40 L574.42,344.38 L574.17,344.36 L573.91,344.34 L573.66,344.32 L573.41,344.29 L573.15,344.27 L572.90,344.24 L572.64,344.21 L572.39,344.18 L572.13,344.14 L571.88,344.11 L571.62,344.07 L571.37,344.03 L571.11,343.99 L570.86,343.95 L570.60,343.91 L570.35,343.86 L570.10,343.81 L569.84,343.76 L569.59,343.71 L569.34,343.66 L569.08,343.60 L568.83,343.54 L568.58,343.48 L568.33,343.42 L568.08,343.36 L567.83,343.29 L567.58,343.22 L567.33,343.15 L567.08,343.07 L566.83,343.00 L566.59,342.92 L566.34,342.84 L566.10,342.75 L565.85,342.67 L565.61,342.58 L565.37,342.49 L565.13,342.40 L564.89,342.30 L564.65,342.20 L564.42,342.10 L564.18,342.00 L563.95,341.89 L563.71,341.79 L563.48,341.68 L563.25,341.56 L563.02,341.45 L562.80,341.33 L562.57,341.21 L562.35,341.09 L562.13,340.96 L561.90,340.84 L561.69,340.71 L561.47,340.57 L561.25,340.44 L561.04,340.30 L560.83,340.16 L560.62,340.02 L560.41,339.87 L560.21,339.72 L560.01,339.57 L559.81,339.42 L559.61,339.26 L559.41,339.11 L559.22,338.95 L559.03,338.78 L558.84,338.62 L558.65,338.45 L558.47,338.28 L558.28,338.11 L558.11,337.93 L557.93,337.76 L557.75,337.58 L557.58,337.40 L557.41,337.21 L557.25,337.03 L557.09,336.84 L556.93,336.65 L556.77,336.45 L556.61,336.26 L556.46,336.06 L556.31,335.86 L556.17,335.66 L556.02,335.45 L555.88,335.25 L555.75,335.04 L555.61,334.83 L555.48,334.62 L555.36,334.40 L555.23,334.18 L555.11,333.97 L554.99,333.75 L554.88,333.52 L554.77,333.30 L554.66,333.07 L554.56,332.84 L554.46,332.61 L554.36,332.38 L554.27,332.15 L554.18,331.91 L554.09,331.68 L554.01,331.44 L553.93,331.20 L553.86,330.96 L553.78,330.71 L553.72,330.47 L553.65,330.22 L553.59,329.98 L553.53,329.73 L553.48,329.48 L553.43,329.23 L553.39,328.97 L553.35,328.72 L553.31,328.46 L553.27,328.21 L553.24,327.95 L553.22,327.69 L553.20,327.43 L553.18,327.17 L553.17,326.91 L553.16,326.65 L553.15,326.38 L553.15,326.12 L553.15,325.85 L553.16,325.59 L553.17,325.32 L553.18,325.05 L553.20,324.78 L553.22,324.51 L553.25,324.25 L553.28,323.98 L553.32,323.70 L553.35,323.43 L553.40,323.16 L553.45,322.89 L553.50,322.62 L553.55,322.35 L553.61,322.08 L553.68,321.80 L553.75,321.53 L553.82,321.26 L553.90,320.98 L553.98,320.71 L554.06,320.44 L554.15,320.17 L554.25,319.89 L554.34,319.62 L554.45,319.35 L554.55,319.08 L554.66,318.81 L554.78,318.54 L554.90,318.27 L555.02,317.99 L555.15,317.73 L555.28,317.46 L555.41,317.19 L555.55,316.92 L555.70,316.65 L555.84,316.39 L556.00,316.12 L556.15,315.86 L556.31,315.59 L556.48,315.33 L556.65,315.07 L556.82,314.81 L557.00,314.55 L557.18,314.29 L557.36,314.03 L557.55,313.77 L557.74,313.52 L557.94,313.26 L558.14,313.01 L558.35,312.76 L558.56,312.51 L558.77,312.26 L558.98,312.01 L559.20,311.77 L559.43,311.52 L559.66,311.28 L559.89,311.04 L560.12,310.80 L560.36,310.57 L560.61,310.33 L560.85,310.10 L561.10,309.86 L561.36,309.63 L561.62,309.41 L561.88,309.18 L562.14,308.96 L562.41,308.74 L562.68,308.52 L562.96,308.30 L563.24,308.08 L563.52,307.87 L563.81,307.66 L564.10,307.45 L564.39,307.25 L564.68,307.04 L564.98,306.84 L565.28,306.64 L565.59,306.45 L565.90,306.25 L566.21,306.06 L566.53,305.87 L566.84,305.69 L567.16,305.50 L567.49,305.32 L567.81,305.15 L568.14,304.97 L568.48,304.80 L568.81,304.63 L569.15,304.46 L569.49,304.30 L569.83,304.14 L570.18,303.98 L570.53,303.83 L570.88,303.68 L571.23,303.53 L571.59,303.38 L571.95,303.24 L572.31,303.10 L572.67,302.96 L573.03,302.83 L573.40,302.70 L573.77,302.57 L574.14,302.45 L574.52,302.33 L574.89,302.21 L575.27,302.10 L575.65,301.99 L576.03,301.88 L576.41,301.78 L576.80,301.68 L577.18,301.58 L577.57,301.49 L577.96,301.40 L578.35,301.31 L578.74,301.23 L579.14,301.15 L579.53,301.07 L579.93,301.00 L580.32,300.93 L580.72,300.87 L581.12,300.80 L581.52,300.74 L581.92,300.69 L582.32,300.64 L582.73,300.59 L583.13,300.55 L583.53,300.50 L583.93,300.47 L584.34,300.43 L584.74,300.40 L585.15,300.38 L585.55,300.35 L585.95,300.33 L586.36,300.32 L586.76,300.30 L587.16,300.29 L587.56,300.29 L587.97,300.28 L588.37,300.28 L588.76,300.29 L589.16,300.30 L589.56,300.31 L589.95,300.32 L590.34,300.34 L590.73,300.35 L591.12,300.38 L591.51,300.40 L591.89,300.43 L592.26,300.46 L592.64,300.49 L593.01,300.53 L593.37,300.57 L593.73,300.61 L594.08,300.65 L594.42,300.69 L594.75,300.73 L595.08,300.78 L595.39,300.82 L595.70,300.86 L595.99,300.91 L596.26,300.95 L596.52,300.99 L596.76,301.02 L596.97,301.06 L597.17,301.08 L597.33,301.11 L597.47,301.12 L597.58,301.13 L597.66,301.13 L597.70,301.12 L597.71,301.10 L597.69,301.06 L597.63,301.02 L597.54,300.97 L597.43,300.90 L597.28,300.83 L597.11,300.74 L596.92,300.65 L596.71,300.54 L596.48,300.43 L596.23,300.31 L595.98,300.18 L595.71,300.05 L595.43,299.91 L595.14,299.76 L594.84,299.61 L594.54,299.45 L594.23,299.28 L593.92,299.11 L593.60,298.94 L593.29,298.76 L592.96,298.58 L592.64,298.39 L592.32,298.20 L591.99,298.00 L591.66,297.80 L591.34,297.60 L591.01,297.39 L590.68,297.18 L590.36,296.96 L590.03,296.75 L589.71,296.52 L589.38,296.30 L589.06,296.07 L588.74,295.84 L588.42,295.61 L588.10,295.37 L587.79,295.13 L587.47,294.89 L587.16,294.64 L586.85,294.40 L586.54,294.14 L586.23,293.89 L585.93,293.64 L585.63,293.38 L585.33,293.12 L585.03,292.85 L584.74,292.59 L584.45,292.32 L584.16,292.05 L583.88,291.77 L583.59,291.50 L583.31,291.22 L583.04,290.94 L582.76,290.66 L582.49,290.38 L582.23,290.09 L581.96,289.81 L581.70,289.52 L581.44,289.23 L581.19,288.93 L580.94,288.64 L580.69,288.34 L580.45,288.05 L580.21,287.75 L579.97,287.45 L579.74,287.14 L579.51,286.84 L579.28,286.54 L579.06,286.23 L578.84,285.92 L578.62,285.61 L578.41,285.30 L578.20,284.99 L578.00,284.68 L577.80,284.37 L577.60,284.05 L577.41,283.74 L577.22,283.42 L577.03,283.11 L576.85,282.79 L576.67,282.47 L576.50,282.15 L576.33,281.83 L576.16,281.51 L576.00,281.19 L575.84,280.87 L575.69,280.55 L575.54,280.23 L575.39,279.91 L575.25,279.58 L575.11,279.26 L574.98,278.94 L574.85,278.61 L574.72,278.29 L574.60,277.97 L574.48,277.65 L574.37,277.32 L574.26,277.00 L574.15,276.68 L574.05,276.36 L573.95,276.03 L573.86,275.71 L573.77,275.39 L573.68,275.07 L573.60,274.75 L573.52,274.43 L573.45,274.11 L573.38,273.79 L573.31,273.47 L573.25,273.15 L573.20,272.84 L573.14,272.52 L573.09,272.20 L573.05,271.89 L573.01,271.58 L572.97,271.26 L572.94,270.95 L572.91,270.64 L572.88,270.33 L572.86,270.03 L572.84,269.72 L572.83,269.41 L572.82,269.11 L572.81,268.81 L572.81,268.50 L572.81,268.20 L572.82,267.91 L572.83,267.61 L572.84,267.31 L572.86,267.02 L572.88,266.73 L572.91,266.44 L572.93,266.15 L572.97,265.86 L573.00,265.57 L573.04,265.29 L573.09,265.01 L573.13,264.73 L573.18,264.45 L573.24,264.18 L573.30,263.90 L573.36,263.63 L573.42,263.36 L573.49,263.09 L573.56,262.83 L573.64,262.57 L573.72,262.30 L573.80,262.05 L573.89,261.79 L573.98,261.54 L574.07,261.29 L574.17,261.04 L574.26,260.79 L574.37,260.55 L574.47,260.31 L574.58,260.07 L574.69,259.83 L574.81,259.60 L574.93,259.37 L575.05,259.14 L575.17,258.91 L575.30,258.69 L575.43,258.47 L575.56,258.25 L575.70,258.04 L575.84,257.83 L575.98,257.62 L576.12,257.41 L576.27,257.21 L576.42,257.01 L576.57,256.81 L576.73,256.62 L576.89,256.43 L577.05,256.24 L577.21,256.05 L577.37,255.87 L577.54,255.69 L577.71,255.52 L577.89,255.35 L578.06,255.18 L578.24,255.01 L578.42,254.85 L578.60,254.69 L578.78,254.53 L578.97,254.38 L579.16,254.23 L579.35,254.08 L579.54,253.94 L579.73,253.79 L579.93,253.66 L580.13,253.52 L580.33,253.39 L580.53,253.26 L580.73,253.14 L580.94,253.02 L581.15,252.90 L581.36,252.79 L581.57,252.68 L581.78,252.57 L581.99,252.46 L582.21,252.36 L582.42,252.27 L582.64,252.17 L582.86,252.08 L583.08,251.99 L583.30,251.91 L583.53,251.83 L583.75,251.75 L583.98,251.67 L584.20,251.60 L584.43,251.53 L584.66,251.47 L584.89,251.41 L585.12,251.35 L585.35,251.29 L585.58,251.24 L585.82,251.19 L586.05,251.15 L586.28,251.11 L586.52,251.07 L586.76,251.03 L586.99,251.00 L587.23,250.97 L587.47,250.94 L587.71,250.92 L587.95,250.90 L588.19,250.88 L588.43,250.87 L588.67,250.86 L588.91,250.85 L589.15,250.84 L589.39,250.84 L589.63,250.84 L589.87,250.85 L590.11,250.85 L590.35,250.86 L590.60,250.88 L590.84,250.89 L591.08,250.91 L591.32,250.93 L591.56,250.95 L591.81,250.98 L592.05,251.01 L592.29,251.04 L592.53,251.07 L592.77,251.11 L593.01,251.15 L593.25,251.19 L593.49,251.23 L593.73,251.28 L593.97,251.33 L594.21,251.38 L594.45,251.43 L594.69,251.49 L594.93,251.55 L595.16,251.61 L595.40,251.67 L595.64,251.73 L595.87,251.80 L596.11,251.87 L596.34,251.94 L596.58,252.01 L596.81,252.09 L597.04,252.16 L597.27,252.24 L597.50,252.32 L597.74,252.40 L597.96,252.48 L598.19,252.57 L598.42,252.65 L598.65,252.74 L598.88,252.83 L599.10,252.92 L599.33,253.01 L599.55,253.11 L599.77,253.20 L599.99,253.30 L600.22,253.39 L600.44,253.49 L600.66,253.59 L600.87,253.69 L601.09,253.79 L601.31,253.89 L601.52,253.99 L601.74,254.10 L601.95,254.20 L602.17,254.31 L602.38,254.41 L602.59,254.52Z" fill="none" stroke="#84502e" stroke-width="4.69" stroke-linejoin="round"/>
<text x="264" y="469.6" font-size="18.75" fill="#000">Spectral Amplitudes in <tspan font-family="DejaVu Sans,sans-serif">10<tspan dy="-6.5" font-size="12.6">−2</tspan></tspan><tspan dy="6.5" dx="1"> m/Hz</tspan></text>
<g id="iris">
<path d="M749.6,457.7H788.3" fill="none" stroke="#333" stroke-width="0.8"/>
<path d="M751,457.7l0.7,-0.6 0.7,1.2 0.7,-1.2 0.7,0.6 M754,457.7l0.7,-0.6 0.7,1.2 0.7,-1.2 0.7,0.6 M757,457.7l0.7,-0.6 0.7,1.2 0.7,-1.2 0.7,0.6 M760,457.7l0.7,-0.7 0.7,1.4 0.7,-1.4 0.7,0.7 M763,457.7l0.8,-1 0.8,2.2 0.8,-2.8 0.8,3.2 0.7,-1.6 M772,457.7l0.7,1.8 0.8,-3 0.8,2.4 0.8,-1.8 0.7,0.6 M777,457.7l0.7,-0.6 0.7,1.2 0.7,-1.2 0.7,0.6 M780.5,457.7l0.7,-0.6 0.7,1.2 0.7,-1.2 0.7,0.6 M784,457.7l0.7,-0.6 0.7,1.2 0.7,-1.2 0.7,0.6" fill="none" stroke="#333" stroke-width="0.7"/>
<path d="M767.6,457.7l0.7,2.2 0.9,-9.7 0.9,13 0.8,-7.5 0.7,3 0.6,-1" fill="none" stroke="#8a8a8a" stroke-width="1" stroke-linejoin="round"/>
<g font-family="'Liberation Serif','Times New Roman',serif" fill="#111" stroke="#111" stroke-width="0.22">
<text transform="translate(749.6,480.6) scale(0.85,1)" font-size="29">I<tspan font-size="24">RIS</tspan></text>
</g>
</g>
</svg>
</body></html>
